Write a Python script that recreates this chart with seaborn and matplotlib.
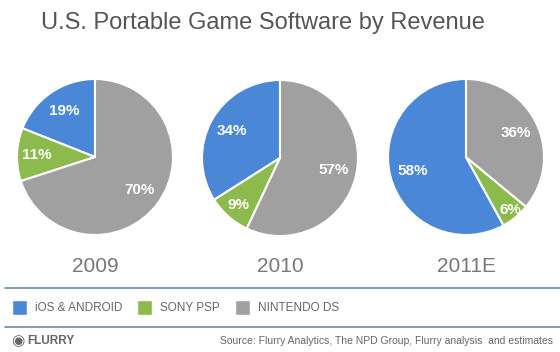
import matplotlib
matplotlib.use("Agg")
import numpy as np
import matplotlib.pyplot as plt
import seaborn as sns

years = ["2009", "2010", "2011E"]
platforms = ["iOS & ANDROID", "SONY PSP", "NINTENDO DS"]
ios_android = [19, 34, 58]
sony_psp = [11, 9, 6]
nintendo_ds = [70, 57, 36]

sns.set_theme(style="white")
plt.rcParams["font.family"] = ["Liberation Sans", "DejaVu Sans"]

colors = sns.color_palette(["#4a87d6", "#8cba4c", "#a0a0a0"])
text_grey = "#666666"

fig = plt.figure(figsize=(5.6, 3.52), dpi=100)
fig.patch.set_facecolor("white")

fig.text(263 / 560, 1 - 23 / 352, "U.S. Portable Game Software by Revenue", ha="center", va="center",
         fontsize=17, color="#555555")

centers = [(95, 157, 78), (280, 158, 78), (466, 157, 78)]
for i, yr in enumerate(years):
    cx, cy, r = centers[i]
    ax = fig.add_axes([(cx - r) / 560, 1 - (cy + r) / 352, 2 * r / 560, 2 * r / 352])
    vals = [ios_android[i], sony_psp[i], nintendo_ds[i]]
    wedges, texts, autotexts = ax.pie(
        vals, colors=colors, startangle=90, counterclock=True,
        autopct=lambda p: f"{p:.0f}%", pctdistance=0.71,
        wedgeprops=dict(edgecolor="white", linewidth=1.5),
        textprops=dict(color="white", fontsize=11, fontweight="bold"))
    # push labels of thin slices further out, like the original
    for v, t in zip(vals, autotexts):
        x, y = t.get_position()
        k = (0.71 + max(0, 12 - v) * 0.03) / 0.71
        t.set_position((x * k, y * k))
    ax.set_aspect("auto")
    ax.set_xlim(-1, 1)
    ax.set_ylim(-1, 1)
    ax.axis("off")
    fig.text(cx / 560, 1 - 267 / 352, yr, ha="center", va="center",
             fontsize=15, color="#777777")

# legend band
for yline in (288, 327):
    fig.add_artist(plt.Line2D([5 / 560, 1], [1 - yline / 352] * 2, color="#6b87a8",
                              linewidth=1.2, transform=fig.transFigure))

leg_x = [12, 137, 235]
for j, lab in enumerate(platforms):
    fig.add_artist(plt.Rectangle((leg_x[j] / 560, 1 - 315 / 352), 15 / 560, 15 / 352,
                                 facecolor=colors[j], transform=fig.transFigure))
    fig.text((leg_x[j] + 23) / 560, 1 - 308 / 352, lab, ha="left", va="center",
             fontsize=8.5, color=text_grey)

fig.text(11 / 560, 1 - 341 / 352, "◉", ha="left", va="center", fontsize=11, color=text_grey,
         family="DejaVu Sans")
fig.text(27 / 560, 1 - 341 / 352, "FLURRY", ha="left", va="center", fontsize=8.5,
         fontweight="bold", color=text_grey)
fig.text(553 / 560, 1 - 341 / 352,
         "Source: Flurry Analytics, The NPD Group, Flurry analysis  and estimates",
         ha="right", va="center", fontsize=7.5, color=text_grey)

fig.savefig("out.png", dpi=100, facecolor="white")
